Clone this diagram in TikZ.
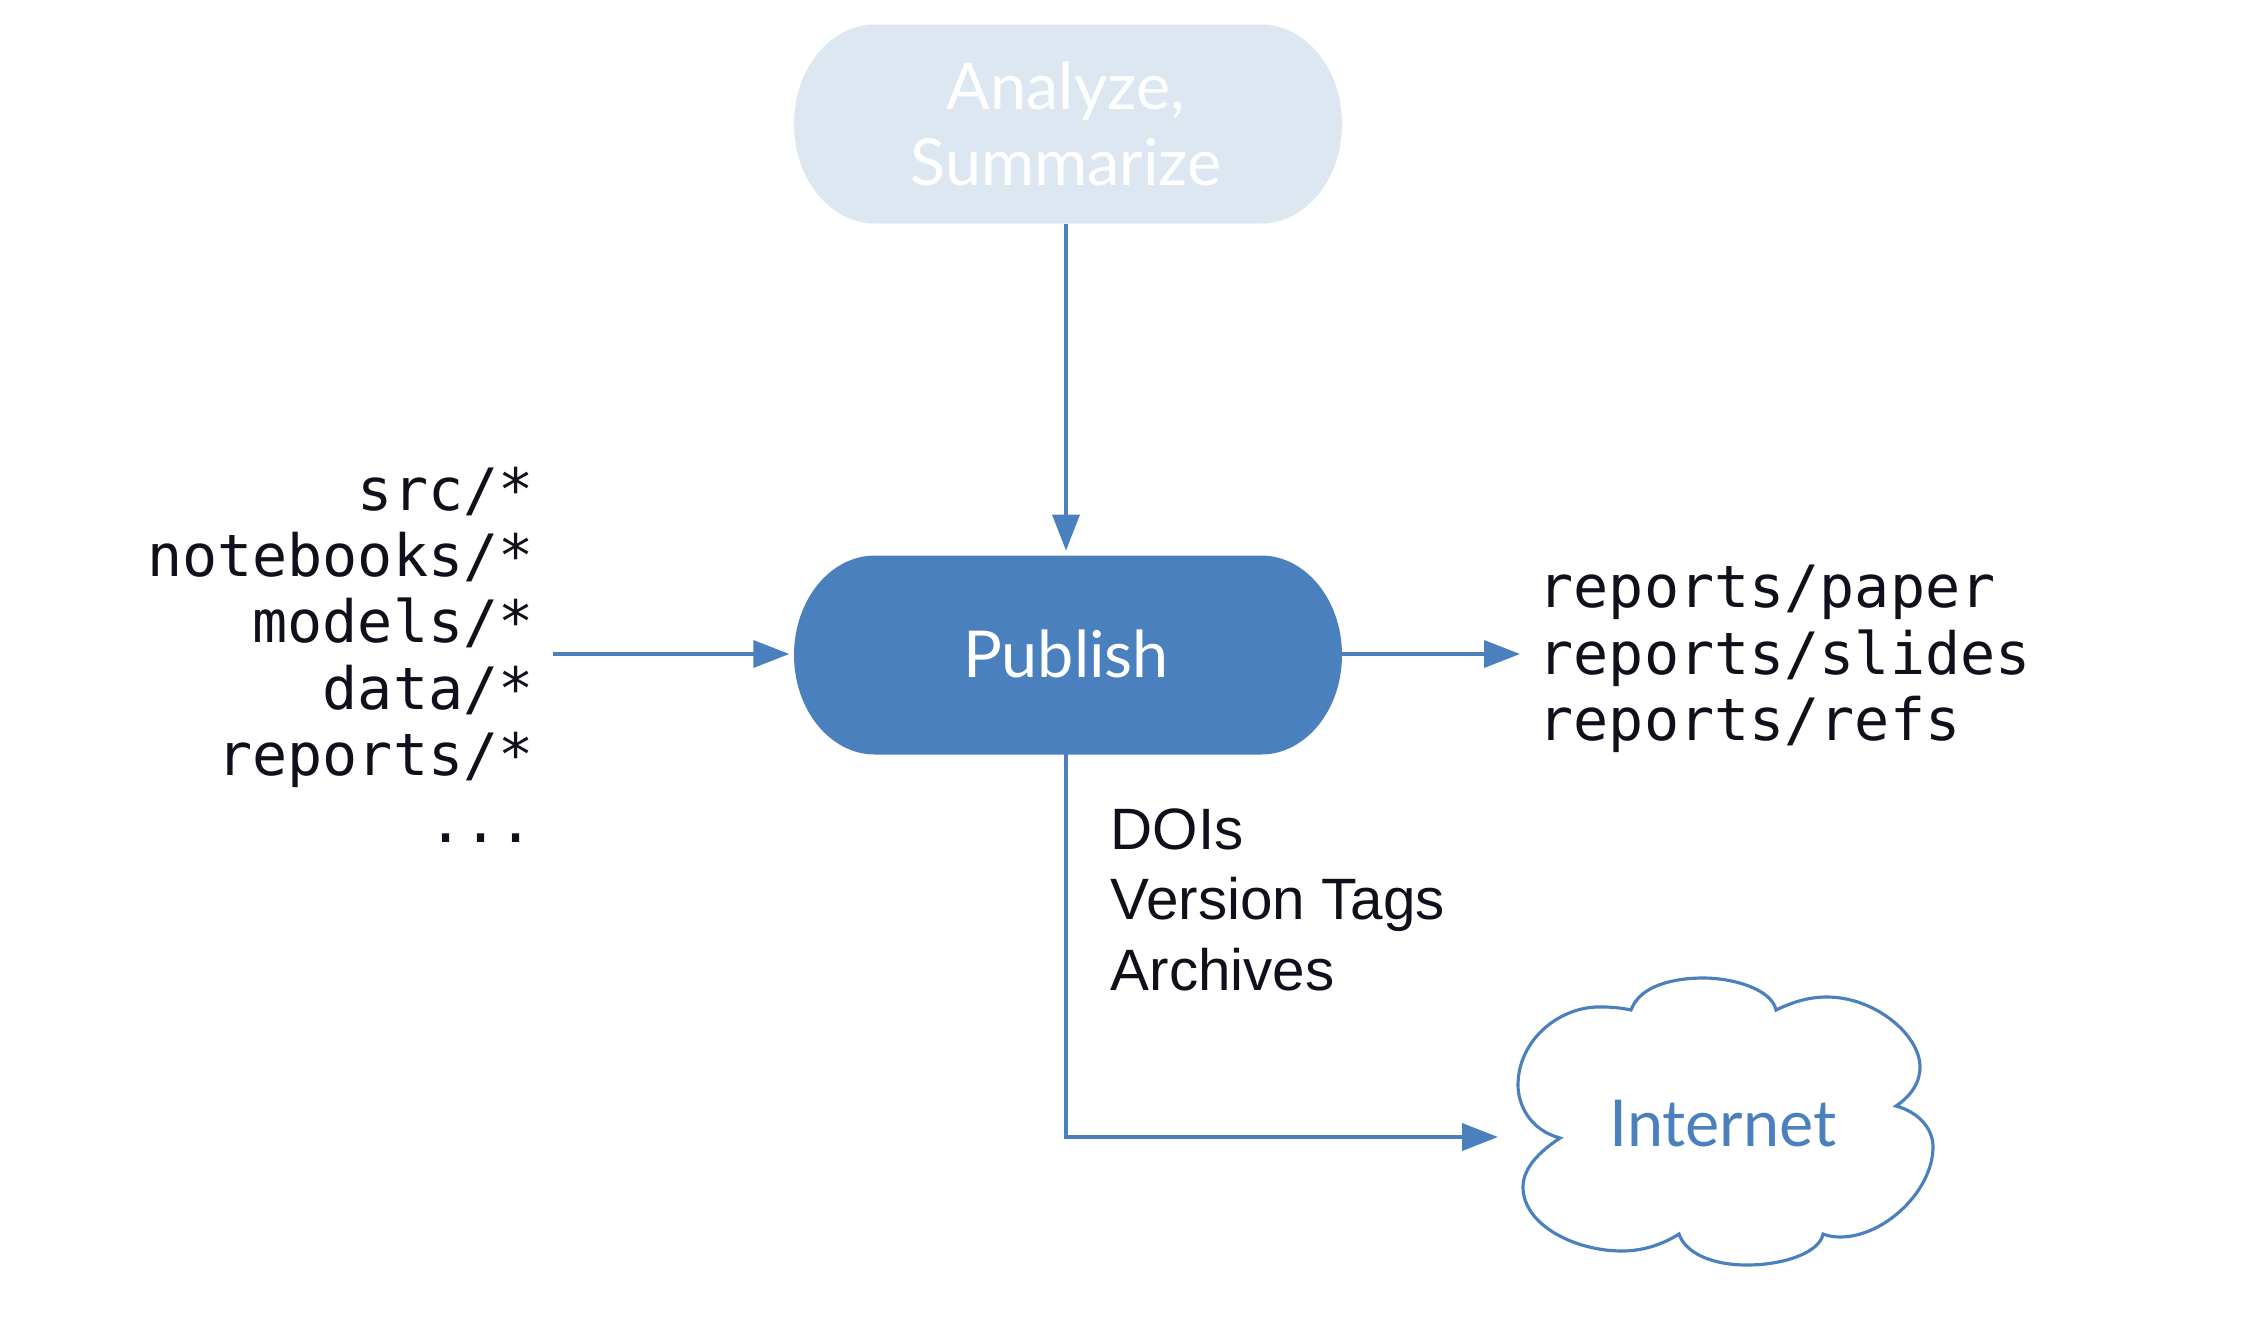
\documentclass[tikz,border=0pt]{standalone}
\usepackage{fontspec}
\setmainfont{Liberation Sans}
\setmonofont{DejaVu Sans Mono}
\newfontfamily\pillfont{Lato}
\usetikzlibrary{arrows.meta}
\definecolor{flowblue}{HTML}{4A80BD}
\definecolor{paleblue}{HTML}{DDE7F1}
\definecolor{inkdark}{HTML}{10101C}
\tikzset{
  flow/.style={draw=flowblue, line width=0.9pt, -{Triangle[length=10.2pt, width=7.7pt]}},
  pill/.style={minimum width=5.44cm, minimum height=1.99cm, inner sep=0pt, align=center,
    font=\pillfont\fontsize{18.4}{21.6}\selectfont},
  pathlist/.style={inner ysep=0pt, text=inkdark,
    font=\ttfamily\fontsize{16.6}{18.9}\selectfont},
  notelist/.style={inner sep=0pt, align=left, text=inkdark,
    font=\fontsize{16.6}{20}\selectfont}
}

\begin{document}
\begin{tikzpicture}[x=0.01cm, y=-0.01cm]
    \useasboundingbox (0, 0) rectangle (2257, 1324);

            % Pills behind their nodes
            \fill[paleblue] (875, 24.5) -- (1261, 24.5)
                arc[start angle=-90, end angle=90, x radius=81, y radius=99.5]
                -- (875, 223.5)
                arc[start angle=90, end angle=270, x radius=81, y radius=99.5] -- cycle;
            \fill[flowblue] (875, 555.5) -- (1261, 555.5)
                arc[start angle=-90, end angle=90, x radius=81, y radius=99.5]
                -- (875, 754.5)
                arc[start angle=90, end angle=270, x radius=81, y radius=99.5] -- cycle;

            \node[pill, text=white] (analyze) at (1066, 124) {Analyze,\\Summarize};
            \node[pill, text=white] (publish) at (1066, 654) {Publish};

            % File lists
            \node[pathlist, inner xsep=5.3pt, align=right, anchor=east] (inputs) at (553, 654.5)
                {src/*\\notebooks/*\\models/*\\data/*\\reports/*\\...};
            \node[pathlist, inner xsep=5.1pt, align=left, anchor=west] (outputs) at (1520, 659)
                {reports/paper\\reports/slides\\reports/refs};

            % Release notes
            \node[notelist, anchor=north west] (release) at (1110, 808)
                {DOIs\\Version Tags\\Archives};

            % Cloud
            \draw[flowblue, line width=0.9pt, line join=miter]
                (1560, 1138) .. controls (1530, 1130) and (1518, 1105) .. (1518, 1085)
                .. controls (1518, 1040) and (1560, 1005) .. (1603, 1007)
                .. controls (1612, 1007) and (1622, 1008) .. (1631, 1010)
                .. controls (1640, 985) and (1675, 978) .. (1703, 978)
                .. controls (1735, 978) and (1772, 990) .. (1776, 1010)
                .. controls (1795, 1001) and (1810, 997) .. (1827, 997)
                .. controls (1875, 997) and (1920, 1035) .. (1920, 1067)
                .. controls (1920, 1085) and (1908, 1098) .. (1896, 1106)
                .. controls (1918, 1112) and (1933, 1128) .. (1933, 1147)
                .. controls (1933, 1190) and (1885, 1237) .. (1840, 1237)
                .. controls (1834, 1237) and (1828, 1236) .. (1823, 1234)
                .. controls (1820, 1252) and (1785, 1265) .. (1747, 1265)
                .. controls (1710, 1265) and (1685, 1252) .. (1679, 1234)
                .. controls (1665, 1243) and (1645, 1251) .. (1622, 1251)
                .. controls (1575, 1251) and (1523, 1225) .. (1523, 1187)
                .. controls (1523, 1165) and (1545, 1148) .. (1560, 1138) -- cycle;
            \node[pill, text=flowblue, minimum width=3cm, minimum height=1cm] (internet) at (1723, 1124) {Internet};
            \coordinate (cloudin) at (1498, 1137);

            % Connectors
            \draw[flow, shorten >=0.9pt] (analyze.south) -- (publish.north);
            \draw[flow, shorten >=1.1pt] (inputs.east |- publish.west) -- (publish.west);
            \draw[flow] (publish.east) -- (publish.east -| outputs.west);
            \draw[flow] (publish.south) |- (cloudin);
        \end{tikzpicture}
\end{document}
